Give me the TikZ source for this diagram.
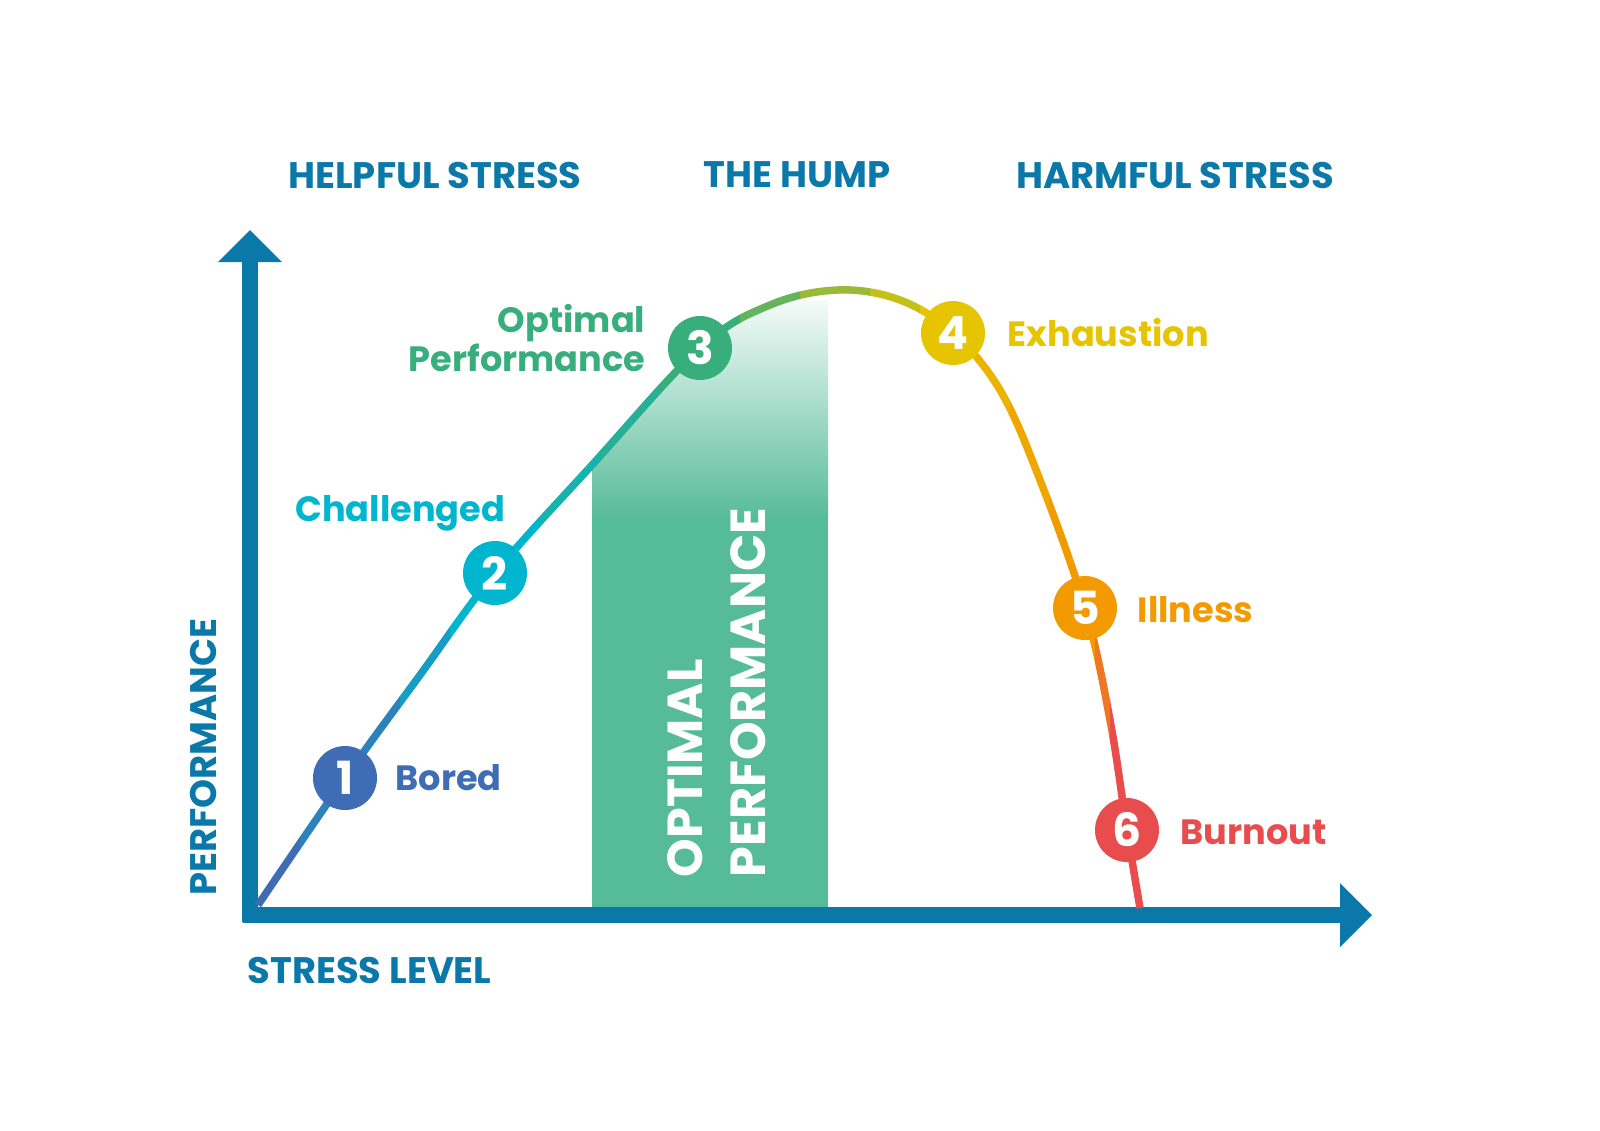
\documentclass[tikz,border=0pt]{standalone}
\usepackage{fontspec}
\setmainfont{Poppins}[BoldFont={Poppins Bold}]
\begin{document}
\begin{tikzpicture}[x=0.1mm,y=-0.1mm,
  num/.style={circle,minimum size=64*0.1mm,inner sep=0pt,text=white,font=\bfseries\fontsize{13}{13}\selectfont},
  lab/.style={font=\bfseries\fontsize{10}{12}\selectfont,inner sep=0pt},
  head/.style={font=\bfseries\fontsize{10.5}{12}\selectfont,text=axc,inner sep=0pt},
  band/.style={font=\bfseries\fontsize{14}{16}\selectfont,text=white,rotate=90,anchor=west,inner sep=0pt}]
\definecolor{axc}{HTML}{0A78A8}
\definecolor{cb}{HTML}{3F6DB5}
\definecolor{cc}{HTML}{00B5CE}
\definecolor{cg}{HTML}{38AE7C}
\definecolor{cy}{HTML}{E6C400}
\definecolor{co}{HTML}{F39A00}
\definecolor{cr}{HTML}{E84C4C}
\definecolor{bandg}{HTML}{55BB99}
\useasboundingbox (0,0) rectangle (1600,1130);
% band
\begin{scope}
\clip (592,908) -- (592,300) -- (828,300) -- (828,908) -- cycle;
\clip (258,908) -- plot[smooth,tension=0.6] coordinates {(258,905)(345,778)(420,675)(495,573)(592,465)(700,348)(770,305)(838,290)(900,300)(953,333)(1000,390)(1040,480)(1085,608)(1110,720)(1127,830)(1140,908)} -- cycle;
\fill[bandg] (592,520) rectangle (828,908);
\shade[top color=white,bottom color=bandg] (592,285) rectangle (828,521);
\end{scope}
\node[band] (opt1) at (685,878) {OPTIMAL};
\node[band] (opt2) at (748,878) {PERFORMANCE};
% axes
\draw[axc,line width=1.6mm] (250,922) -- (250,255);
\fill[axc] (218,262) -- (250,230) -- (282,262) -- cycle;
\draw[axc,line width=1.6mm] (243,915) -- (1345,915);
\fill[axc] (1340,883) -- (1372,915) -- (1340,947) -- cycle;
% curve in strips
\foreach \a/\b/\c in {0/300/cb,300/400/cb!70!cc,400/450/cb!35!cc,450/540/cc,540/600/cc!60!cg,600/660/cc!30!cg,660/740/cg,740/800/cg!75!cy,800/870/cg!45!cy,870/920/cg!20!cy,920/975/cy,975/1010/cy!60!co,1010/1050/cy!30!co,1050/1095/co,1095/1110/co!55!cr,1110/1200/cr}{
  \begin{scope}\clip (\a,200) rectangle (\b,911);
  \draw[\c,line width=0.75mm] plot[smooth,tension=0.6] coordinates {(258,905)(345,778)(420,675)(495,573)(592,465)(700,348)(770,305)(838,290)(900,300)(953,333)(1000,390)(1040,480)(1085,608)(1110,720)(1127,830)(1140,908)};
  \end{scope}}
% points
\node[num,fill=cb] (n1) at (345,778) {1};
\node[num,fill=cc] (n2) at (495,573) {2};
\node[num,fill=cg] (n3) at (700,348) {3};
\node[num,fill=cy] (n4) at (953,333) {4};
\node[num,fill=co] (n5) at (1085,608) {5};
\node[num,fill=cr] (n6) at (1127,830) {6};
\node[lab,text=cb,anchor=west] (l1) at (395,778) {Bored};
\node[lab,text=cc,anchor=east] (l2) at (506,513) {Challenged};
\node[lab,text=cg,anchor=east,align=right] (l3) at (646,338) {Optimal\\[-1pt]Performance};
\node[lab,text=cy,anchor=west] (l4) at (1007,333) {Exhaustion};
\node[lab,text=co,anchor=west] (l5) at (1137,610) {Illness};
\node[lab,text=cr,anchor=west] (l6) at (1180,832) {Burnout};
% headings
\node[head] (h1) at (435,175) {HELPFUL STRESS};
\node[head] (h2) at (797,175) {THE HUMP};
\node[head] (h3) at (1175,175) {HARMFUL STRESS};
\node[head,anchor=west] (xl) at (247,970) {STRESS LEVEL};
\node[head,rotate=90] (yl) at (203,757) {PERFORMANCE};
\end{tikzpicture}
\end{document}
